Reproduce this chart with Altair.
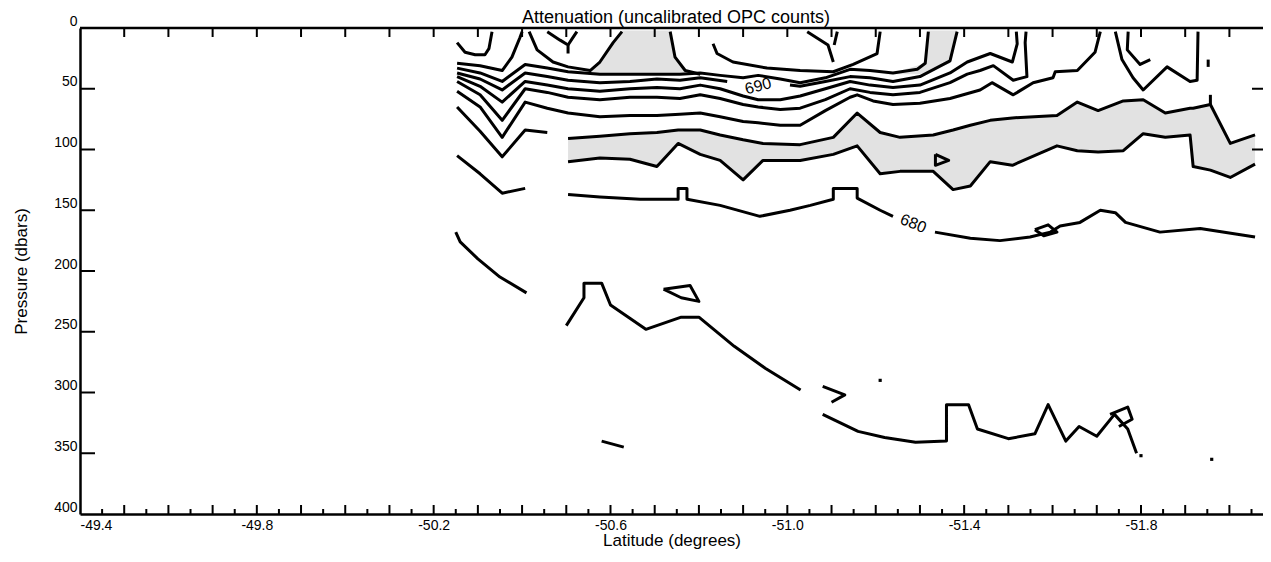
import altair as alt
import pandas as pd

# ---- texts ----
chart_title = ["Attenuation (uncalibrated OPC counts)"]

# ---- axis tick values ----
lat_labels = [-49.4, -49.8, -50.2, -50.6, -51.0, -51.4, -51.8]
lat_major = [round(-49.5 - 0.1 * i, 2) for i in range(26)]
lat_minor = [round(-49.45 - 0.1 * i, 2) for i in range(27)]
p_ticks = [50, 100, 150, 200, 250, 300, 350]
p_labels = [0, 50, 100, 150, 200, 250, 300, 350, 400]

# ---- contour lines: latitude (deg) / pressure (dbar) ----
hook1_lat = [-50.253, -50.271, -50.294, -50.316, -50.325, -50.332]
hook1_p = [12, 20, 22, 22, 17, 3]
b1_lat = [-50.253, -50.305, -50.355, -50.377, -50.395, -50.400]
b1_p = [29, 31, 35, 24, 8, 3]
b1b_lat = [-50.416, -50.434, -50.470, -50.504, -50.554, -50.576, -50.606, -50.626]
b1b_p = [3, 18, 28, 32, 35, 28, 12, 3]
y1a_lat = [-50.457, -50.486, -50.504, -50.504]
y1a_p = [3, 10, 14, 21]
y1b_lat = [-50.524, -50.513, -50.504]
y1b_p = [3, 9, 14]
capr_lat = [-50.735, -50.746, -50.769, -50.803]
capr_p = [3, 24, 35, 38]
u1_lat = [-50.832, -50.841, -50.877, -50.954, -51.029, -51.104, -51.149, -51.203, -51.210]
u1_p = [13, 21, 28, 33, 35, 36, 30, 21, 3]
y2a_lat = [-51.045, -51.092, -51.104]
y2a_p = [3, 14, 28]
y2b_lat = [-51.113, -51.106]
y2b_p = [3, 14]

b2_lat = [-50.253, -50.305, -50.355, -50.407, -50.457, -50.504, -50.576, -50.644, -50.705, -50.757, -50.803, -50.848, -50.900, -50.934, -50.984, -51.029, -51.086, -51.142, -51.187, -51.239, -51.294, -51.312, -51.319]
b2_p = [33, 37, 44, 30, 33, 36, 38, 38, 38, 38, 37, 39, 41, 39, 42, 45, 41, 34, 35, 37, 34, 29, 3]
b3a_lat = [-50.253, -50.305, -50.355, -50.407, -50.457, -50.504, -50.576, -50.644, -50.705, -50.757, -50.803, -50.864]
b3a_p = [37, 42, 51, 37, 40, 43, 45, 44, 42, 43, 41, 44]
b3b_lat = [-51.006, -51.029, -51.086, -51.142, -51.187, -51.239, -51.300, -51.368, -51.384]
b3b_p = [47, 48, 44, 40, 41, 44, 40, 27, 3]
b4_lat = [-50.253, -50.305, -50.355, -50.407, -50.457, -50.504, -50.576, -50.644, -50.705, -50.757, -50.803, -50.848, -50.900, -50.934, -50.984, -51.029, -51.086, -51.142, -51.187, -51.239, -51.300, -51.368, -51.407, -51.459, -51.509, -51.520, -51.518]
b4_p = [40, 48, 61, 44, 47, 50, 52, 50, 49, 50, 47, 50, 56, 59, 59, 56, 50, 44, 47, 49, 47, 37, 28, 21, 28, 13, 3]
b5_lat = [-50.253, -50.305, -50.355, -50.407, -50.457, -50.504, -50.576, -50.644, -50.705, -50.757, -50.803, -50.848, -50.900, -50.934, -50.984, -51.029, -51.086, -51.142, -51.187, -51.239, -51.300, -51.368, -51.407, -51.436, -51.466, -51.511, -51.542, -51.538, -51.540]
b5_p = [44, 55, 76, 50, 53, 57, 59, 57, 57, 58, 55, 58, 63, 65, 67, 66, 59, 50, 53, 55, 53, 45, 38, 35, 31, 43, 40, 12, 3]
b6_lat = [-50.253, -50.305, -50.355, -50.407, -50.457, -50.504, -50.576, -50.644, -50.705, -50.757, -50.803, -50.848, -50.900, -50.934, -50.984, -51.029, -51.086, -51.142, -51.158, -51.194, -51.239, -51.300, -51.368, -51.436, -51.463, -51.511, -51.556, -51.601, -51.606, -51.656, -51.696, -51.708]
b6_p = [52, 65, 90, 61, 66, 70, 73, 72, 72, 71, 70, 73, 77, 78, 80, 80, 68, 57, 55, 60, 63, 62, 58, 51, 45, 55, 45, 41, 36, 35, 20, 3]
v1_lat = [-50.253, -50.305, -50.355, -50.407, -50.457]
v1_p = [65, 85, 106, 84, 86]
low1_lat = [-50.253, -50.305, -50.355, -50.407]
low1_p = [105, 120, 136, 132]

u2_lat = [-51.742, -51.757, -51.782, -51.805, -51.859, -51.911, -51.927, -51.929]
u2_p = [3, 26, 41, 51, 32, 44, 43, 3]
hook2_lat = [-51.771, -51.769, -51.798, -51.821]
hook2_p = [3, 18, 30, 26]
dash1_lat = [-51.952, -51.952]
dash1_p = [26, 32]
tick1_lat = [-51.957, -51.957]
tick1_p = [55, 63]
tri_lat = [-51.335, -51.365, -51.335, -51.335]
tri_p = [104, 109, 113, 104]

# stippled band: upper and lower edge at shared latitudes
band_lat = [-50.504, -50.576, -50.644, -50.705, -50.753, -50.803, -50.848, -50.900, -50.945, -51.029, -51.104, -51.158, -51.210, -51.255, -51.330, -51.375, -51.414, -51.459, -51.509, -51.610, -51.656, -51.703, -51.760, -51.805, -51.855, -51.911, -51.918, -51.957, -52.002, -52.058]
band_top = [91, 89, 87, 86, 84, 84, 88, 92, 95, 96, 90, 70, 86, 90, 88, 84, 80, 76, 74, 72, 61, 68, 60, 59, 70, 66, 66, 63, 95, 88]
band_bot = [110, 107, 108, 114, 95, 104, 109, 125, 109, 109, 104, 97, 120, 118, 118, 133, 130, 110, 113, 97, 101, 102, 101, 87, 90, 88, 114, 117, 123, 112]

# stippled cap near the surface
cap_lat = [-50.554, -50.576, -50.606, -50.626, -50.735, -50.746, -50.769]
cap_top = [35, 28, 12, 2, 2, 24, 35]
cap_bot = [38, 38, 38, 38, 38, 38, 38]

# stippled strip (drawn sideways: pressure is the shared axis)
strip_p = [2, 20, 29, 34, 38]
strip_left = [-51.319, -51.314, -51.312, -51.267, -51.221]
strip_right = [-51.384, -51.375, -51.368, -51.334, -51.300]

c680a_lat = [-50.504, -50.576, -50.667, -50.753, -50.753, -50.773, -50.773, -50.848, -50.938, -51.006, -51.052, -51.104, -51.104, -51.158, -51.158, -51.210, -51.239]
c680a_p = [137, 139, 141, 141, 132, 132, 141, 146, 155, 150, 146, 141, 132, 132, 140, 150, 155]
c680b_lat = [-51.334, -51.414, -51.481, -51.549, -51.595, -51.617, -51.662, -51.708, -51.742, -51.765, -51.843, -51.934, -52.058]
c680b_p = [168, 173, 175, 172, 168, 163, 160, 150, 152, 160, 168, 165, 172]
loop1_lat = [-51.56, -51.59, -51.61, -51.58, -51.56]
loop1_p = [166, 162, 168, 171, 166]

low2_lat = [-50.25, -50.26, -50.30, -50.35, -50.41]
low2_p = [168, 176, 190, 205, 218]
mid_lat = [-50.50, -50.54, -50.54, -50.58, -50.60, -50.68, -50.76, -50.80, -50.88, -50.95, -51.03]
mid_p = [245, 222, 210, 210, 228, 248, 238, 238, 262, 280, 298]
loop2_lat = [-50.72, -50.78, -50.80, -50.76, -50.72]
loop2_p = [215, 212, 225, 222, 215]
deep_lat = [-51.08, -51.12, -51.16, -51.22, -51.29, -51.36, -51.36, -51.41, -51.43, -51.50, -51.56, -51.59, -51.63, -51.66, -51.70, -51.74, -51.77, -51.79]
deep_p = [318, 325, 332, 337, 341, 340, 310, 310, 330, 338, 334, 310, 340, 328, 336, 318, 330, 350]
deep2_lat = [-51.08, -51.13, -51.10]
deep2_p = [295, 302, 308]
deep3_lat = [-51.73, -51.77, -51.78, -51.75]
deep3_p = [318, 312, 322, 328]
seg_lat = [-50.58, -50.63]
seg_p = [340, 345]

dots_lat = [-51.21, -51.80, -51.96]
dots_p = [290, 352, 355]

contours = [
    (hook1_lat, hook1_p), (b1_lat, b1_p), (b1b_lat, b1b_p), (y1a_lat, y1a_p), (y1b_lat, y1b_p),
    (capr_lat, capr_p), (u1_lat, u1_p), (y2a_lat, y2a_p), (y2b_lat, y2b_p),
    (b2_lat, b2_p), (b3a_lat, b3a_p), (b3b_lat, b3b_p), (b4_lat, b4_p), (b5_lat, b5_p),
    (b6_lat, b6_p), (v1_lat, v1_p), (low1_lat, low1_p), (u2_lat, u2_p), (hook2_lat, hook2_p),
    (dash1_lat, dash1_p), (tick1_lat, tick1_p), (tri_lat, tri_p),
    (band_lat, band_top), (band_lat, band_bot),
    (c680a_lat, c680a_p), (c680b_lat, c680b_p), (loop1_lat, loop1_p),
    (low2_lat, low2_p), (mid_lat, mid_p), (loop2_lat, loop2_p),
    (deep_lat, deep_p), (deep2_lat, deep2_p), (deep3_lat, deep3_p), (seg_lat, seg_p),
]

rows = []
for k, (la, pr) in enumerate(contours):
    for i, (a, b) in enumerate(zip(la, pr)):
        rows.append({"lat": a, "p": b, "line": k, "order": i})
line_df = pd.DataFrame(rows)

band_df = pd.DataFrame({"lat": band_lat, "p": band_top, "bot": band_bot})
cap_df = pd.DataFrame({"lat": cap_lat, "p": cap_top, "bot": cap_bot})
strip_df = pd.DataFrame({"p": strip_p, "lat": strip_left, "lat2": strip_right})
dots_df = pd.DataFrame({"lat": dots_lat, "p": dots_p})
labels_df = pd.DataFrame({"lat": [-50.934, -51.285], "p": [48, 161], "text": ["690", "680"], "angle": [-15, 22]})
title_df = pd.DataFrame({"t": chart_title})

X_DOMAIN = [-49.4, -52.076]
Y_DOMAIN = [0, 400]
FONT = "Liberation Sans"
STIPPLE = "#e2e2e2"
W, H = 1183, 486

xs = alt.Scale(domain=X_DOMAIN, nice=False, zero=False)
ys = alt.Scale(domain=Y_DOMAIN, reverse=True, nice=False, zero=False)

x_axis = alt.Axis(values=lat_labels, labelExpr="'-' + format(abs(datum.value), '.1f')",
                  title="Latitude (degrees)",
                  labelFont=FONT, labelFontSize=14, labelColor="black",
                  titleFont=FONT, titleFontSize=17, titleFontWeight="normal",
                  titleColor="black", titleY=31, titleBaseline="alphabetic",
                  domainColor="black", domainWidth=2.5, ticks=False,
                  labelPadding=4, labelFlush=3, grid=False)
y_axis = alt.Axis(values=p_labels, title="Pressure (dbars)",
                  labelFont=FONT, labelFontSize=14, labelColor="black",
                  titleFont=FONT, titleFontSize=17, titleFontWeight="normal",
                  titleColor="black", titleX=-54, titleBaseline="alphabetic",
                  domainColor="black", domainWidth=2.5, ticks=False,
                  labelPadding=3, labelBaseline="bottom", labelOffset=0,
                  grid=False)

X = alt.X("lat:Q", scale=xs, axis=x_axis)
Y = alt.Y("p:Q", scale=ys, axis=y_axis)

band = alt.Chart(band_df).mark_area(color=STIPPLE).encode(x=X, y=Y, y2="bot:Q")
cap = alt.Chart(cap_df).mark_area(color=STIPPLE).encode(x=X, y=Y, y2="bot:Q")
strip = alt.Chart(strip_df).mark_area(color=STIPPLE, orient="horizontal").encode(
    y=Y, x=X, x2="lat2:Q")
lines = alt.Chart(line_df).mark_line(color="black", strokeWidth=3, strokeJoin="round").encode(
    x=X, y=Y, detail="line:N", order="order:Q")
dots = alt.Chart(dots_df).mark_square(color="black", size=10, opacity=1).encode(x=X, y=Y)
labels = alt.Chart(labels_df).mark_text(font=FONT, fontSize=16, color="black").encode(
    x=X, y=Y, text="text:N", angle=alt.Angle("angle:Q", scale=None))
title_mark = alt.Chart(title_df).mark_text(font=FONT, fontSize=18, color="black",
                                           align="center", baseline="alphabetic").encode(
    x=alt.value(596), y=alt.value(-5), text="t:N")

major_df = pd.DataFrame({"lat": lat_major})
minor_df = pd.DataFrame({"lat": lat_minor})
pt_df = pd.DataFrame({"p": p_ticks})
top_ticks = alt.Chart(major_df).mark_rule(color="black", strokeWidth=2).encode(
    x=X, y=alt.value(0), y2=alt.value(9))
bot_major = alt.Chart(major_df).mark_rule(color="black", strokeWidth=2).encode(
    x=X, y=alt.value(H - 9), y2=alt.value(H))
bot_minor = alt.Chart(minor_df).mark_rule(color="black", strokeWidth=2).encode(
    x=X, y=alt.value(H - 5), y2=alt.value(H))
left_ticks = alt.Chart(pt_df).mark_rule(color="black", strokeWidth=2).encode(
    y=Y, x=alt.value(0), x2=alt.value(15))
right_ticks = alt.Chart(pt_df[pt_df.p <= 100]).mark_rule(color="black", strokeWidth=2).encode(
    y=Y, x=alt.value(W - 11), x2=alt.value(W))
top_frame = alt.Chart(pt_df.head(1)).mark_rule(color="black", strokeWidth=2.5).encode(
    x=alt.value(0), x2=alt.value(W), y=alt.value(0))

chart = alt.layer(band, cap, strip, lines, dots, labels, title_mark, top_frame, top_ticks,
                  bot_major, bot_minor, left_ticks, right_ticks).properties(
    width=W, height=H,
    autosize=alt.AutoSizeParams(type="none"),
    padding={"left": 72, "top": 20, "right": 0, "bottom": 40},
).configure_view(stroke=None)

chart.save("out.html", embed_options={"renderer": "svg", "actions": False})
